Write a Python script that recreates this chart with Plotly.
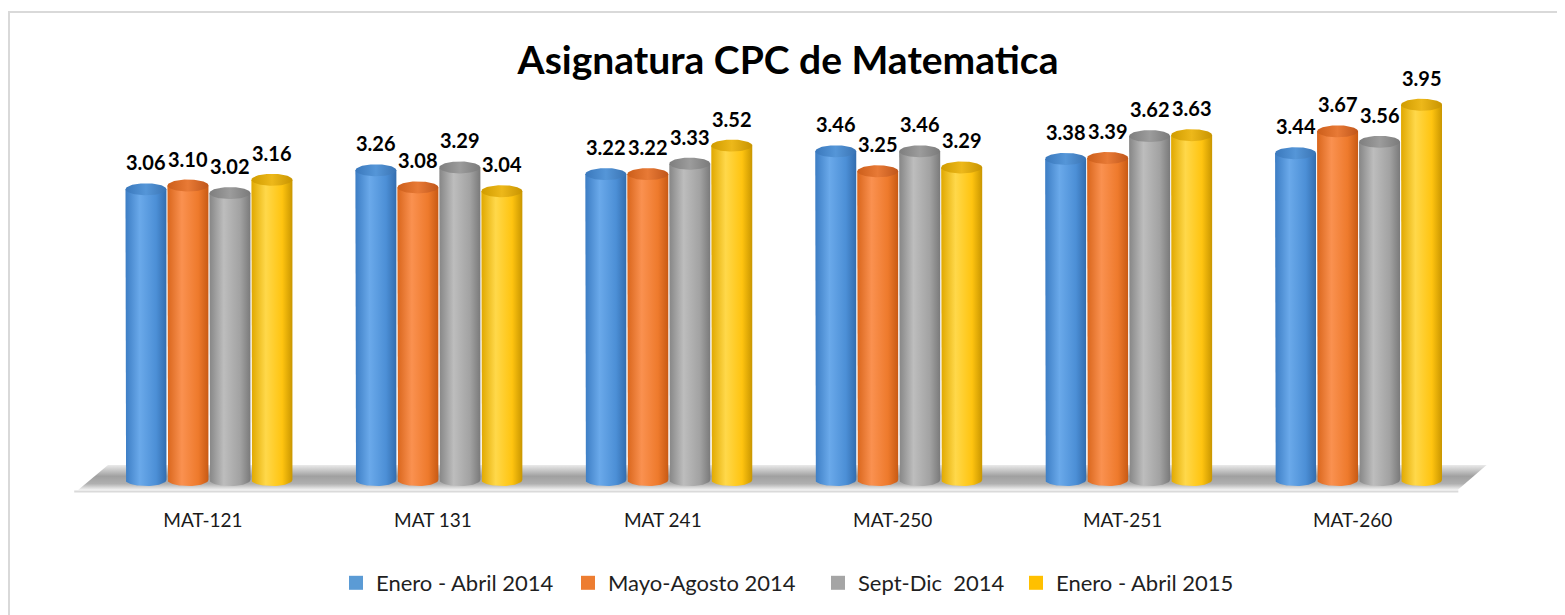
import numpy as np
import plotly.graph_objects as go

# ---- data ----
categories = ["MAT-121", "MAT 131", "MAT 241", "MAT-250", "MAT-251", "MAT-260"]
series_names = ["Enero - Abril 2014", "Mayo-Agosto 2014", "Sept-Dic\u00a0\u00a02014", "Enero - Abril 2015"]
enero_abril_2014 = [3.06, 3.26, 3.22, 3.46, 3.38, 3.44]
mayo_agosto_2014 = [3.10, 3.08, 3.22, 3.25, 3.39, 3.67]
sept_dic_2014 = [3.02, 3.29, 3.33, 3.46, 3.62, 3.56]
enero_abril_2015 = [3.16, 3.04, 3.52, 3.29, 3.63, 3.95]
series_values = [enero_abril_2014, mayo_agosto_2014, sept_dic_2014, enero_abril_2015]

# ---- styles ----
legend_colors = ["#5B9BD5", "#ED7D31", "#A5A5A5", "#FFC000"]
body_scales = [
    [[0, "#3C7DC4"], [0.35, "#6AA9EA"], [0.75, "#4C8FD6"], [1, "#336DAE"]],
    [[0, "#D9661C"], [0.35, "#FA9150"], [0.75, "#EE7A2C"], [1, "#C85A14"]],
    [[0, "#868686"], [0.35, "#BDBDBD"], [0.75, "#A2A2A2"], [1, "#7A7A7A"]],
    [[0, "#E0A800"], [0.35, "#FFD84A"], [0.75, "#FFC410"], [1, "#C99600"]],
]
cap_scales = [
    [[0, "#3A78BC"], [0.5, "#5596D8"], [1, "#3A74B4"]],
    [[0, "#CC5E1A"], [0.5, "#E87A36"], [1, "#C0561A"]],
    [[0, "#7E7E7E"], [0.5, "#9C9C9C"], [1, "#7A7A7A"]],
    [[0, "#D09C00"], [0.5, "#EDB81A"], [1, "#C89400"]],
]

FONT = "Lato"
OFF = 8                      # page body margin of the html
W, H = 1565 - OFF, 615 - OFF
kx = 230.0                   # px per x unit
ky = 95.0                    # px per y unit
XR = [-0.6, 5.65]
ML = (203 - OFF) - (0 - XR[0]) * kx
MR = W - ML - (XR[1] - XR[0]) * kx
base_px = 480 - OFF
plot_top = 20 - OFF
plot_bot = 507 - OFF
MT, MB = plot_top, H - plot_bot
plot_h = plot_bot - plot_top
plot_w = W - ML - MR
YR = [-(plot_bot - base_px) / ky, (base_px - plot_top) / ky]

cyl_w = 41 / kx
step = 42 / kx
shift = 6 / kx
ry = 6 / ky
half = cyl_w / 2

fig = go.Figure()

# floor / shadow
fy0, fy1 = -10 / ky, 15 / ky
floor_x = [-0.543, 5.457, 5.583, -0.413, -0.543]
floor_y = [fy0, fy0, fy1, fy1, fy0]
fig.add_trace(go.Scatter(
    x=floor_x, y=floor_y, mode="lines", fill="toself", line=dict(width=0),
    fillgradient=dict(type="vertical", start=fy0, stop=fy1,
                      colorscale=[[0, "#F4F4F4"], [0.25, "#B0B0B0"], [0.55, "#A0A0A0"], [1, "#EAEAEA"]]),
    hoverinfo="skip", showlegend=False))

t_bot = np.linspace(np.pi, 2 * np.pi, 40)
t_full = np.linspace(0, 2 * np.pi, 80)

annotations = []
for j, vals in enumerate(series_values):
    for i, v in enumerate(vals):
        xc = i + (j - 1.5) * step + shift
        bx = [xc - half, xc - half] + list(xc + half * np.cos(t_bot)) + [xc + half, xc - half]
        by = [v, 0] + list(ry * np.sin(t_bot)) + [v, v]
        fig.add_trace(go.Scatter(
            x=bx, y=by, mode="lines", fill="toself", line=dict(width=0),
            fillgradient=dict(type="horizontal", start=xc - half, stop=xc + half,
                              colorscale=body_scales[j]),
            hoverinfo="skip", showlegend=False))
        cx = list(xc + half * np.cos(t_full))
        cy = list(v + ry * np.sin(t_full))
        fig.add_trace(go.Scatter(
            x=cx, y=cy, mode="lines", fill="toself", line=dict(width=0),
            fillgradient=dict(type="horizontal", start=xc - half, stop=xc + half,
                              colorscale=cap_scales[j]),
            hoverinfo="skip", showlegend=False))
        annotations.append(dict(
            x=xc, y=v, xref="x", yref="y", text=f"<b>{v:.2f}</b>", showarrow=False,
            yanchor="middle", yshift=27, font=dict(family=FONT, size=20, color="#000000")))

# legend entries, one legend each so they can be placed like the original
legend_text_x = [376, 608, 858, 1056]
legend_layout = {}
for j, name in enumerate(series_names):
    key = "legend" if j == 0 else f"legend{j + 1}"
    fig.add_trace(go.Scatter(
        x=[None], y=[None], mode="markers", name=name, legend=key,
        marker=dict(symbol="square", size=14, color=legend_colors[j])))
    legend_layout[key] = dict(
        orientation="h", xref="container", yref="container",
        x=(legend_text_x[j] - OFF - 40) / W, xanchor="left",
        y=1 - (583 - OFF) / H, yanchor="middle",
        font=dict(family=FONT, size=22, color="#1F1F1F"), itemwidth=30,
        bgcolor="rgba(0,0,0,0)")

shapes = [
    # base line under floor
    dict(type="line", xref="x", yref="y", x0=-0.56, x1=5.46, y0=-11.5 / ky, y1=-11.5 / ky,
         line=dict(color="#DADADA", width=2), layer="below"),
    # outer frame
    dict(type="rect", xref="paper", yref="paper",
         x0=(1 - ML) / plot_w, x1=1.2,
         y0=-0.5, y1=(plot_bot - (12 - OFF)) / plot_h,
         line=dict(color="#D9D9D9", width=2), layer="below"),
]

fig.update_layout(
    width=W, height=H,
    margin=dict(l=ML, r=MR, t=MT, b=MB, autoexpand=False),
    paper_bgcolor="white", plot_bgcolor="white",
    title=dict(text="<b>Asignatura CPC de Matematica</b>", x=(788 - OFF) / W, xanchor="center",
               xref="container", yref="container", y=1 - (60 - OFF) / H, yanchor="middle",
               font=dict(family=FONT, size=39, color="#000000")),
    xaxis=dict(range=XR, tickvals=list(range(len(categories))), ticktext=categories,
               showgrid=False, zeroline=False, showline=False, ticks="",
               tickfont=dict(family=FONT, size=19, color="#1A1A1A"), fixedrange=True),
    yaxis=dict(range=YR, visible=False, showgrid=False, zeroline=False, fixedrange=True),
    annotations=annotations,
    shapes=shapes,
    showlegend=True,
    **legend_layout,
)

fig.write_html("out.html")
